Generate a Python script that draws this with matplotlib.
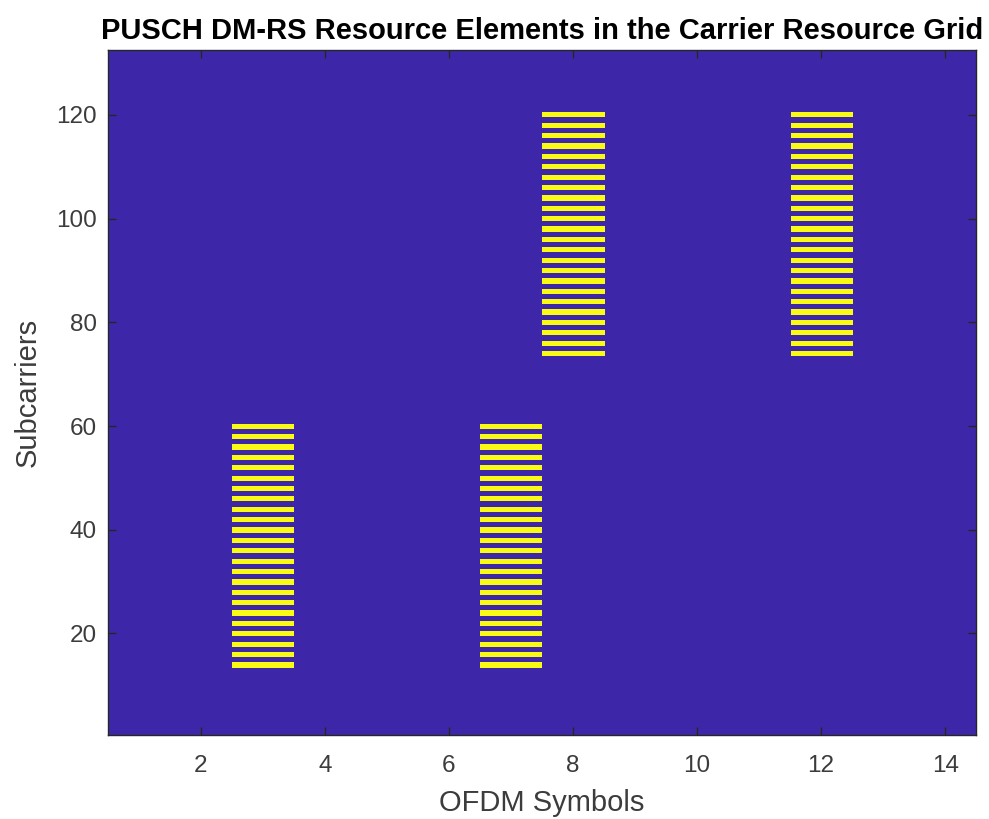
import numpy as np
import matplotlib.pyplot as plt
from matplotlib.colors import ListedColormap

# carrier grid size: 11 RBs x 12 subcarriers, 14 OFDM symbols
n_subcarriers = 132
n_symbols = 14

# DM-RS allocation (1-based symbol, first/last subcarrier, comb spacing 2)
dmrs_symbols = [3, 7, 8, 12]
dmrs_first_sc = [14, 14, 74, 74]
dmrs_last_sc = [60, 60, 120, 120]

x_ticks = [2, 4, 6, 8, 10, 12, 14]
y_ticks = [20, 40, 60, 80, 100, 120]

grid = np.zeros((n_subcarriers, n_symbols))
for sym, first, last in zip(dmrs_symbols, dmrs_first_sc, dmrs_last_sc):
    sc = np.arange(first, last + 1, 2)
    grid[sc - 1, sym - 1] = 1

plt.rcParams['font.family'] = ['Liberation Sans', 'DejaVu Sans']
fig = plt.figure(figsize=(9.89, 8.19), dpi=100)
ax = fig.add_axes([0.109, 0.103, 0.878, 0.836])

cmap = ListedColormap(['#3E26A8', '#F9FB15'])
ax.imshow(grid, cmap=cmap, aspect='auto', origin='lower', interpolation='nearest',
          extent=[0.5, n_symbols + 0.5, 0.5, n_subcarriers + 0.5])

ax.set_xticks(x_ticks)
ax.set_yticks(y_ticks)
ax.tick_params(direction='in', top=True, right=True, length=6, width=1,
               colors='#262626', labelcolor='#3c3c3c', labelsize=17.5)
ax.tick_params(axis='x', pad=15)
ax.tick_params(axis='y', pad=8)
for s in ax.spines.values():
    s.set_color('#262626')
    s.set_linewidth(1)

ax.set_xlabel('OFDM Symbols', fontsize=21, color='#3c3c3c', labelpad=8)
ax.set_ylabel('Subcarriers', fontsize=21, color='#3c3c3c', labelpad=10)
ax.set_title('PUSCH DM-RS Resource Elements in the Carrier Resource Grid',
             fontsize=21, fontweight='bold', color='black', pad=8)

fig.savefig('out.png', dpi=100)
